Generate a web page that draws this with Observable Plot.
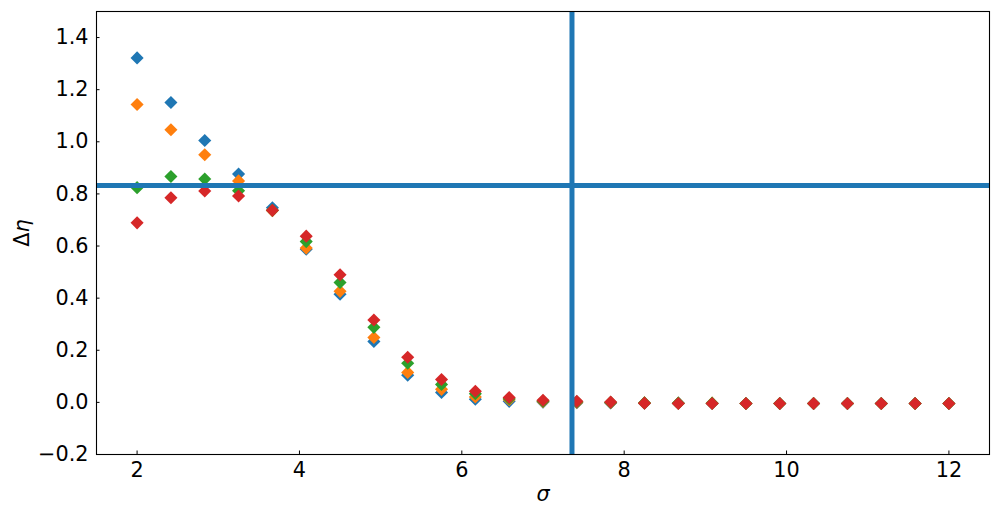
<!DOCTYPE html>
<html>
<head>
<meta charset="utf-8">
<script src="https://cdn.jsdelivr.net/npm/d3@7"></script>
<script src="https://cdn.jsdelivr.net/npm/@observablehq/plot@0.6"></script>
<style>
  html, body { margin: 0; padding: 0; background: #fff; }
  #chart { width: 999px; height: 514px; }
</style>
</head>
<body>
<div id="chart"></div>
<script>
const sigma = [2, 2.4167, 2.8333, 3.25, 3.6667, 4.0833, 4.5, 4.9167, 5.3333, 5.75, 6.1667, 6.5833, 7, 7.4167, 7.8333, 8.25, 8.6667, 9.0833, 9.5, 9.9167, 10.3333, 10.75, 11.1667, 11.5833, 12];
const seriesBlue   = [1.322, 1.151, 1.005, 0.876, 0.747, 0.588, 0.415, 0.234, 0.104, 0.038, 0.012, 0.004, 0.001, -0.001, -0.002, -0.003, -0.003, -0.004, -0.004, -0.004, -0.004, -0.004, -0.004, -0.004, -0.004];
const seriesOrange = [1.143, 1.046, 0.950, 0.850, 0.736, 0.592, 0.426, 0.249, 0.115, 0.050, 0.021, 0.010, 0.003, 0.000, -0.001, -0.002, -0.003, -0.003, -0.004, -0.004, -0.004, -0.004, -0.004, -0.004, -0.004];
const seriesGreen  = [0.824, 0.867, 0.857, 0.812, 0.737, 0.617, 0.460, 0.288, 0.150, 0.069, 0.033, 0.014, 0.005, 0.002, 0.000, -0.002, -0.003, -0.003, -0.004, -0.004, -0.004, -0.004, -0.004, -0.004, -0.004];
const seriesRed    = [0.689, 0.785, 0.811, 0.792, 0.737, 0.638, 0.490, 0.316, 0.173, 0.088, 0.043, 0.019, 0.008, 0.004, 0.001, -0.003, -0.004, -0.004, -0.004, -0.004, -0.004, -0.004, -0.004, -0.004, -0.004];
const seriesColors = ["#1f77b4", "#ff7f0e", "#2ca02c", "#d62728"];
const vLine = [7.357];
const hLine = [0.832];
const xTicks = [2, 4, 6, 8, 10, 12];
const yTicks = [-0.2, 0, 0.2, 0.4, 0.6, 0.8, 1.0, 1.2, 1.4];

const FS = 20.8;
const allSeries = [seriesBlue, seriesOrange, seriesGreen, seriesRed];
const dotMarks = allSeries.map((vals, k) =>
  Plot.dot(sigma.map((s, i) => ({s, v: vals[i]})), {
    x: "s", y: "v", symbol: "diamond2", r: 5.9, fill: seriesColors[k], stroke: "none"
  })
);

const chart = Plot.plot({
  width: 999,
  height: 514,
  marginLeft: 96,
  marginRight: 10,
  marginTop: 11,
  marginBottom: 60,
  style: { fontFamily: "DejaVu Sans", fontSize: FS + "px", color: "#000", background: "#fff" },
  x: { domain: [1.5, 12.5] },
  y: { domain: [-0.2, 1.5] },
  marks: [
    ...dotMarks,
    Plot.ruleY(hLine, { y: d => d, stroke: "#1f77b4", strokeWidth: 5 }),
    Plot.ruleX(vLine, { x: d => d, stroke: "#1f77b4", strokeWidth: 5 }),
    Plot.frame({ stroke: "#000", strokeWidth: 1.1 }),
    Plot.axisX({ ticks: xTicks, tickSize: -3.5, tickPadding: 11.5, tickFormat: d3.format("d"), label: null, fontSize: FS }),
    Plot.axisY({ ticks: yTicks, tickSize: -3.5, tickPadding: 11.5, tickFormat: d3.format(".1f"), label: null, fontSize: FS }),
    Plot.text(["σ"], { text: d => d, frameAnchor: "bottom", dy: 46, lineAnchor: "bottom", fontStyle: "italic", fontSize: FS }),
    Plot.text(["Δη"], { text: d => d, frameAnchor: "left", dx: -68, rotate: -90, lineAnchor: "bottom", textAnchor: "middle", fontSize: FS })
  ]
});

document.getElementById("chart").appendChild(chart);

d3.select(chart).selectAll("text").each(function() {
  if (this.textContent === "Δη") {
    const t = d3.select(this);
    t.text(null);
    t.append("tspan").text("Δ");
    t.append("tspan").attr("font-style", "italic").text("η");
  }
});
</script>
</body>
</html>
